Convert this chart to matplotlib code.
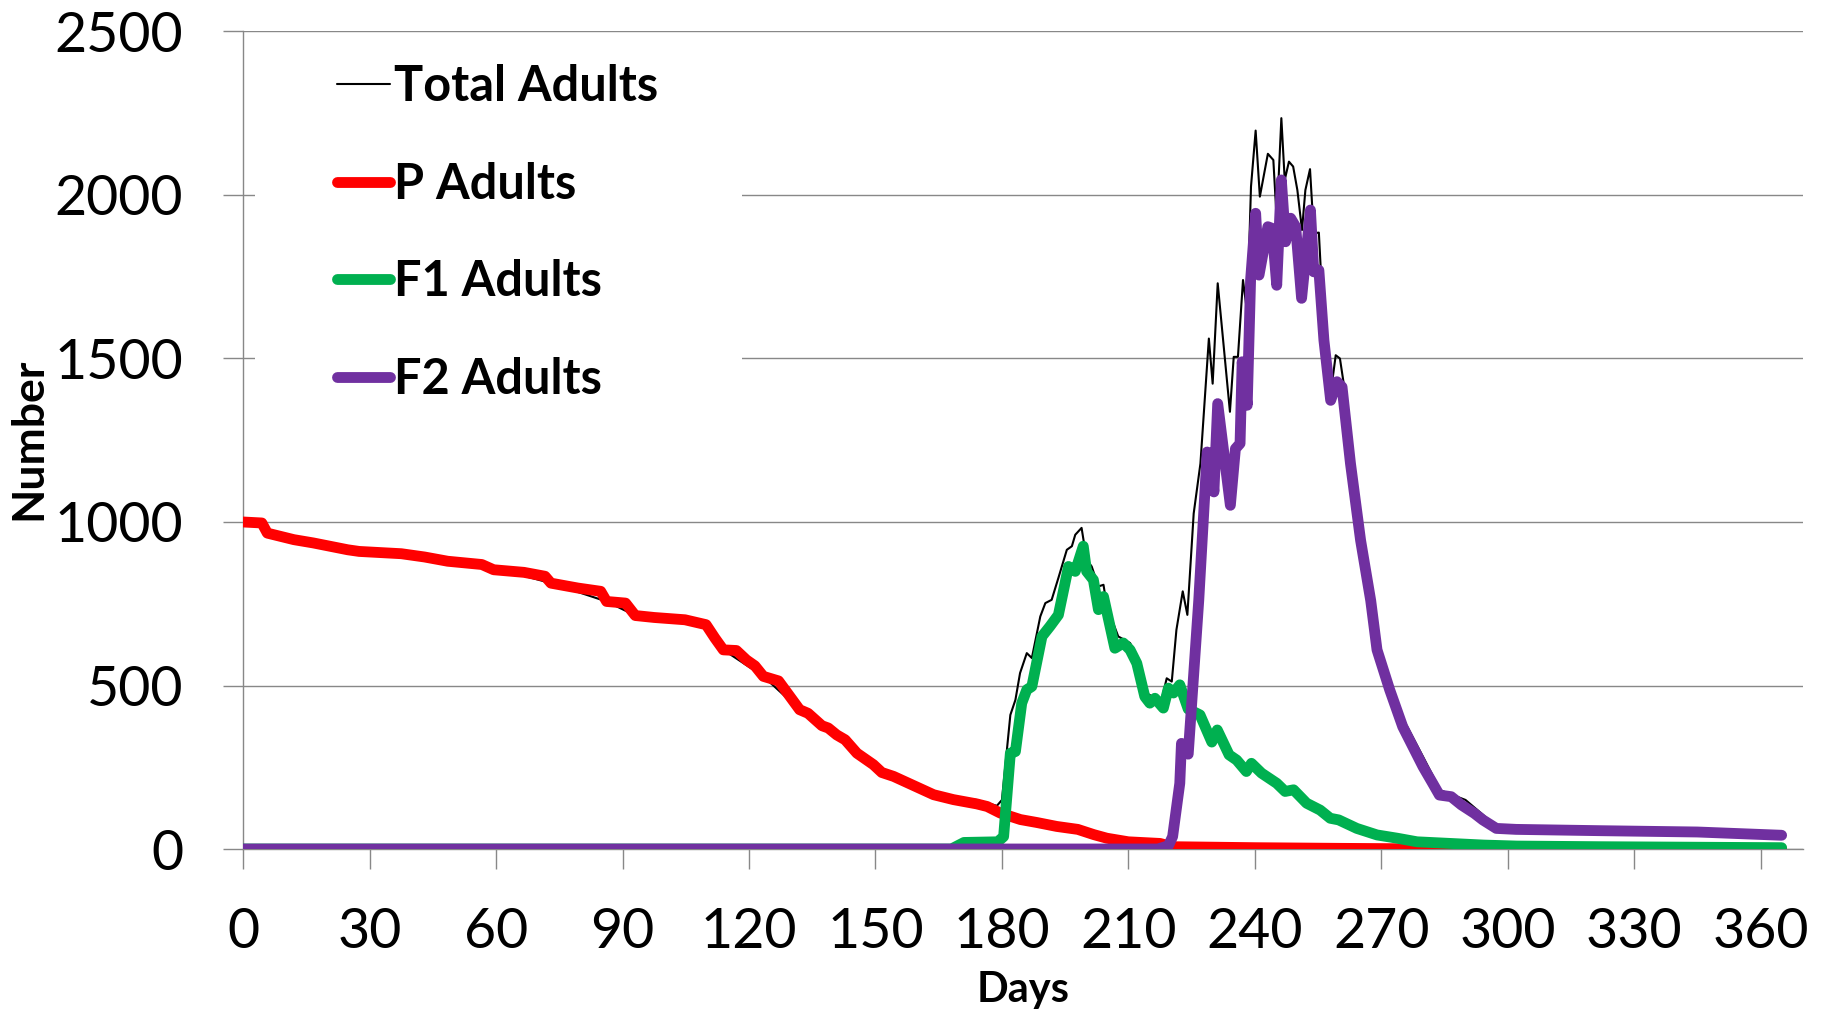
import matplotlib
matplotlib.use("Agg")
import matplotlib.pyplot as plt
from matplotlib.patches import Rectangle

plt.rcParams['font.family'] = ['Lato', 'DejaVu Sans']

# values: (day, number of adults)
total_days = [0, 4.4, 5.7, 12, 24.8, 37.5, 56.6, 73, 86.2, 93, 109.8, 113.9, 123.4, 132,
              145.6, 154.3, 168, 171, 174, 178.8, 180, 182, 183.2, 184.3, 185.9, 187.1,
              189.1, 190.3, 191.8, 193.4, 195.4, 196.6, 197.4, 198.9, 200.1, 201.3, 202.9,
              204.1, 204.9, 207.6, 210.4, 212, 214.3, 216.3, 217.5, 219.1, 220.3, 221.4,
              222.9, 224, 225.5, 227.1, 229.1, 230, 231.2, 234.1, 235, 236, 237.2, 238.2,
              239.1, 240.2, 241.2, 243.1, 244.4, 245.2, 246.3, 247.1, 248.1, 249.1, 250.1,
              251.2, 252, 253.1, 254, 255.2, 255.6, 256.8, 258, 259.2, 260.2, 261.1, 262.7,
              265.1, 267.5, 269, 272, 275.1, 280, 284, 290, 297.3, 302, 322, 345, 365]
total_vals = [1000, 997, 966, 946, 915, 903, 870, 813, 757, 714, 686, 609, 528, 426,
              293, 222, 151, 155, 150, 132, 150, 410, 456, 538, 599, 584,
              711, 752, 762, 829, 915, 926, 961, 982, 885, 864, 803,
              808, 742, 650, 630, 589, 477, 461, 436, 522, 512, 670,
              788, 716, 1026, 1179, 1561, 1423, 1730, 1337, 1505, 1505, 1740, 1638,
              2026, 2197, 1995, 2126, 2107, 1923, 2235, 2046, 2102, 2087, 2015,
              1893, 2015, 2079, 1883, 1885, 1786, 1577, 1393, 1510, 1500, 1423, 1199,
              970, 790, 640, 515, 400, 280, 180, 150, 70, 66, 62, 56, 46]

p_days = [0, 4.4, 5.7, 12, 16.6, 24.8, 27.5, 37.5, 43, 48.5, 56.6, 59.4, 66.6, 71.6, 73,
          79.4, 84.8, 86.2, 90.7, 93, 97.5, 104.8, 109.8, 111.9, 113.9, 117, 119.4, 121.4,
          123.4, 127, 132, 134, 137.3, 138.8, 140.8, 142.8, 145.6, 149.5, 151.5, 154.3,
          163.8, 168.5, 174, 176.5, 179.6, 184.4, 188.3, 193, 198, 201.8, 204.9, 210,
          217.5, 220.6, 240, 260, 285, 365]
p_vals = [1000, 997, 966, 946, 936, 915, 910, 903, 893, 880, 870, 854, 846, 834, 813,
          798, 788, 757, 752, 714, 708, 701, 686, 645, 609, 607, 578, 560,
          528, 514, 426, 415, 377, 370, 349, 334, 293, 258, 234, 222,
          166, 151, 138, 130, 110, 90, 81, 69, 60, 44, 33, 22,
          17, 7, 4, 2, 0, 0]

f1_days = [0, 168, 171, 179, 180.4, 182, 183.2, 184.7, 185.9, 187.1, 189.5, 191.4, 193.4,
           195.8, 197.4, 199.3, 200.1, 201.7, 202.9, 204.1, 206.8, 208.8, 210.4, 212,
           213.9, 215.1, 216.3, 218.3, 219.5, 220.7, 222.2, 224.2, 227, 229.8, 231.1,
           233.9, 235.7, 238, 239.2, 241.6, 245.2, 247.2, 249.2, 252.3, 255.5, 257.9,
           259.9, 264.2, 269, 273.8, 278.5, 286.4, 294.3, 302.2, 322, 365]
f1_vals = [0, 0, 20, 22, 38, 293, 298, 446, 487, 497, 650, 681, 716,
           864, 849, 926, 849, 823, 732, 772, 614, 630, 609, 568,
           466, 446, 461, 431, 492, 477, 502, 428, 410, 327, 364,
           288, 272, 237, 262, 232, 201, 176, 181, 140, 119, 94,
           89, 63, 43, 33, 22, 17, 12, 9, 7, 4]

f2_days = [0, 217, 219.5, 220.5, 222.2, 222.6, 224.2, 226.7, 228.7, 229.5, 230.3, 231.2,
           234.2, 235.4, 236.5, 237, 238.2, 239, 240.2, 241, 243.1, 244.1, 245.2, 246.3,
           247.3, 248.5, 249.7, 251.1, 253.2, 254, 255.2, 256.4, 258, 259.5, 260.7, 262.7,
           265.1, 267.5, 269, 272, 275.1, 277.5, 279.9, 282.2, 283.8, 286.6, 289, 292.1,
           294.1, 297.3, 302, 322, 345, 365]
f2_vals = [0, 0, 10, 38, 201, 323, 290, 760, 1214, 1209, 1092, 1362,
           1051, 1224, 1240, 1490, 1357, 1740, 1944, 1755, 1903, 1898, 1724, 2046,
           1857, 1929, 1903, 1684, 1954, 1765, 1770, 1556, 1372, 1429, 1413, 1179,
           944, 760, 609, 487, 374, 313, 252, 201, 165, 160, 135, 109,
           89, 63, 60, 56, 52, 42]

x_ticks = list(range(0, 361, 30))
y_ticks = list(range(0, 2501, 500))

fig = plt.figure(figsize=(18.3, 10.18), dpi=100)
ax = fig.add_axes([0.13295, 0.16601, 0.85213, 0.80305])

line_kw = dict(solid_capstyle='round', solid_joinstyle='round')
ax.plot(total_days, total_vals, color='black', lw=1.5, label='Total Adults', zorder=2, **line_kw)
ax.plot(p_days, p_vals, color='#FF0000', lw=7.8, label='P Adults', zorder=3, **line_kw)
ax.plot(f1_days, f1_vals, color='#00B050', lw=7.8, label='F1 Adults', zorder=4, **line_kw)
ax.plot(f2_days, f2_vals, color='#7030A0', lw=7.8, label='F2 Adults', zorder=5, **line_kw)

ax.set_xlim(0, 370)
ax.set_ylim(0, 2500)
ax.set_xticks(x_ticks)
ax.set_yticks(y_ticks)

ax.set_axisbelow(True)
ax.yaxis.grid(True, color='#888888', lw=1.0)
for s in ['top', 'right']:
    ax.spines[s].set_visible(False)
for s in ['left', 'bottom']:
    ax.spines[s].set_color('#888888')
    ax.spines[s].set_linewidth(1.0)

ax.tick_params(axis='both', direction='out', length=14.4, width=1.0, color='#888888',
               labelsize=40)
ax.tick_params(axis='y', pad=29)
ax.tick_params(axis='x', pad=27)

ax.set_xlabel('Days', fontsize=30, fontweight='bold')
ax.xaxis.set_label_coords(0.5, -0.187)
ax.xaxis.label.set_va('baseline')
ax.set_ylabel('Number', fontsize=32, fontweight='bold')
ax.yaxis.set_label_coords(-0.138, 0.5015)
ax.yaxis.label.set_va('center')

# white legend area hides the gridlines behind it
ax.add_patch(Rectangle((0.0075, 0.525), 0.3123, 0.458, transform=ax.transAxes,
                       facecolor='white', edgecolor='none', zorder=1))
ax.legend(loc='upper left', bbox_to_anchor=(0.0601, 0.960), frameon=False,
          prop={'size': 35, 'weight': 'bold'}, handlelength=1.1, handletextpad=0.08,
          labelspacing=1.08, borderpad=0, borderaxespad=0)

fig.savefig('out.png', dpi=100)
